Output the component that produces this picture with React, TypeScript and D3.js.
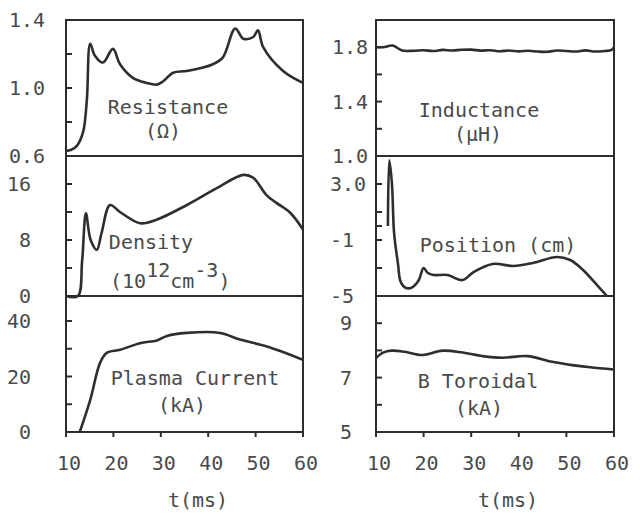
import React from "react";
import * as d3 from "d3";

// time axis (ms)
const timeTicks = [10, 20, 30, 40, 50, 60];

// readings, [t(ms), value]
const resistance = [
  [10, 0.63], [11, 0.635], [12.3, 0.66], [13.6, 0.74], [14.4, 0.93], [15.1, 1.26],
  [16.1, 1.19], [17.8, 1.15], [19.9, 1.23], [21.4, 1.14], [24.1, 1.06], [27, 1.03],
  [29.2, 1.02], [30.5, 1.04], [32.6, 1.09], [35.5, 1.1], [41, 1.14], [43.1, 1.18],
  [45.7, 1.35], [47.4, 1.29], [49.5, 1.3], [50.5, 1.34], [51.6, 1.24], [55.8, 1.1],
  [60, 1.03],
];
const density = [
  [10, 0], [12.5, 0], [13.4, 5], [14.2, 11.8], [15.2, 8], [16.5, 6.6], [17.5, 9],
  [19.3, 13], [21.4, 12], [25.6, 10.4], [29.1, 10.9], [35.5, 13], [41.8, 15.4],
  [47.4, 17.3], [49.5, 16.9], [52.3, 14.4], [54.4, 13.3], [57.3, 11.9], [60, 9.5],
];
const plasmaCurrent = [
  [12.9, 0], [15.1, 11.5], [17.2, 25], [18.6, 28.5], [21.4, 29.6], [25.6, 32],
  [29.2, 33], [31.3, 34.6], [35.5, 35.7], [42.5, 35.7], [46.7, 33.3], [52.4, 30.8],
  [60, 26],
];
const inductance = [
  [10, 1.8], [11.5, 1.8], [13.5, 1.812], [15.5, 1.775], [18, 1.774], [20, 1.778],
  [22, 1.772], [24, 1.78], [26, 1.776], [28, 1.781], [30, 1.782], [32, 1.775],
  [34, 1.778], [36, 1.77], [38, 1.776], [40, 1.769], [42, 1.774], [44, 1.768],
  [46, 1.766], [48, 1.776], [50, 1.772], [52, 1.768], [54, 1.777], [56, 1.768],
  [58, 1.772], [59.5, 1.78], [60, 1.8],
];
const position = [
  [12.5, 0], [12.8, 4.7], [13.35, 3.0], [13.8, -0.5], [14.6, -2.65], [15.2, -4.0],
  [16.3, -4.43], [17.7, -4.36], [19, -3.86], [20, -3.0], [20.9, -3.36], [22.1, -3.5],
  [25, -3.5], [28.2, -3.86], [30.5, -3.29], [34.5, -2.71], [38.9, -2.86], [43, -2.64],
  [48, -2.21], [50.8, -2.43], [53.5, -3.14], [56.4, -4.21], [58.5, -5],
];
const bToroidal = [
  [10, 7.72], [11.5, 7.92], [13.3, 7.99], [16, 7.95], [19.8, 7.83], [24, 7.99],
  [28.2, 7.92], [32.4, 7.79], [36.6, 7.73], [41.8, 7.79], [47, 7.58], [51.2, 7.46],
  [55, 7.38], [60, 7.3],
];

const resistanceTicks = [0.6, 0.8, 1.0, 1.2, 1.4];
const resistanceLabels = ["0.6", "1.0", "1.4"];
const densityTicks = [0, 4, 8, 12, 16];
const densityLabels = ["0", "8", "16"];
const currentTicks = [0, 10, 20, 30, 40];
const currentLabels = ["0", "20", "40"];
const inductanceTicks = [1.0, 1.2, 1.4, 1.6, 1.8];
const inductanceLabels = ["1.0", "1.4", "1.8"];
const positionTicks = [-5, -3, -1, 0, 1, 3];
const positionLabels = ["-5", "-1", "3.0"];
const toroidalTicks = [5, 6, 7, 8, 9];
const toroidalLabels = ["5", "7", "9"];

const INK = "#2e2e2e";
const TXT = "#4a4a4a";
const FONT = "'DejaVu Sans Mono', 'Liberation Mono', monospace";

const cols = [
  { x0: 66, x1: 303, title: 198 },
  { x0: 376, x1: 614, title: 508 },
];
const rows = [
  [20, 156],
  [156, 296],
  [296, 432],
];

const panels = [
  { col: 0, row: 0, data: resistance, domain: [0.6, 1.4], ticks: resistanceTicks, labels: resistanceLabels, labelX: 45, anchor: "end", name: ["Resistance", "(Ω)"], nameX: [168, 163], nameY: [107, 131] },
  { col: 0, row: 1, data: density, domain: [0, 20], ticks: densityTicks, labels: densityLabels, labelX: 31, anchor: "end", name: ["Density"], nameX: [151], nameY: [242] },
  { col: 0, row: 2, data: plasmaCurrent, domain: [0, 49], ticks: currentTicks, labels: currentLabels, labelX: 31, anchor: "end", name: ["Plasma Current", "(kA)"], nameX: [195, 182], nameY: [378, 405] },
  { col: 1, row: 0, data: inductance, domain: [1.0, 2.0], ticks: inductanceTicks, labels: inductanceLabels, labelX: 368, anchor: "end", name: ["Inductance", "(µH)"], nameX: [479, 478], nameY: [110, 134] },
  { col: 1, row: 1, data: position, domain: [-5, 5], ticks: positionTicks, labels: positionLabels, labelX: 330, anchor: "start", name: ["Position (cm)"], nameX: [498], nameY: [245] },
  { col: 1, row: 2, data: bToroidal, domain: [5, 10], ticks: toroidalTicks, labels: toroidalLabels, labelX: 352, anchor: "end", name: ["B Toroidal", "(kA)"], nameX: [478, 479], nameY: [381, 408] },
];

function Panel({ p }: { p: any }) {
  const c = cols[p.col];
  const [top, bottom] = rows[p.row];
  const x = d3.scaleLinear().domain([10, 60]).range([c.x0, c.x1]);
  const y = d3.scaleLinear().domain(p.domain).range([bottom, top]);
  const line = d3
    .line<number[]>()
    .x((d) => x(d[0]))
    .y((d) => y(d[1]))
    .curve(d3.curveCatmullRom.alpha(0.5));
  return (
    <g>
      <rect x={c.x0} y={top} width={c.x1 - c.x0} height={bottom - top} fill="none" stroke={INK} strokeWidth={2} />
      {p.ticks.map((t: number) => (
        <line key={t} x1={c.x0} x2={c.x0 + 6} y1={y(t)} y2={y(t)} stroke={INK} strokeWidth={2} />
      ))}
      {p.labels.map((l: string) => (
        <text key={l} x={p.labelX} y={y(+l)} dy="0.36em" textAnchor={p.anchor} fontSize={20} fill={TXT}>
          {l}
        </text>
      ))}
      <path d={line(p.data) || ""} fill="none" stroke={INK} strokeWidth={2.6} strokeLinejoin="round" />
      {p.name.map((s: string, i: number) => (
        <text key={s} x={p.nameX[i]} y={p.nameY[i]} dy="0.36em" textAnchor="middle" fontSize={20} fill={TXT}>
          {s}
        </text>
      ))}
      {p.row === 2 &&
        timeTicks.map((t) => (
          <g key={t}>
            <line x1={x(t)} x2={x(t)} y1={bottom} y2={bottom + 5} stroke={INK} strokeWidth={2} />
            <text x={x(t) + 3} y={463} dy="0.36em" textAnchor="middle" fontSize={20} fill={TXT}>
              {t}
            </text>
          </g>
        ))}
      {p.row === 2 && (
        <text x={c.title} y={500} dy="0.36em" textAnchor="middle" fontSize={20} fill={TXT}>
          t(ms)
        </text>
      )}
    </g>
  );
}

export default function App() {
  return (
    <svg
      width={640}
      height={519}
      viewBox="0 0 640 519"
      style={{ position: "absolute", left: 0, top: 0, background: "#fff" }}
      fontFamily={FONT}
    >
      <rect width={640} height={519} fill="#fff" />
      {panels.map((p, i) => (
        <Panel key={i} p={p} />
      ))}
      {/* density units with raised exponents */}
      <text x={110} y={288} fontSize={20} fill={TXT}>
        <tspan>(10</tspan>
        <tspan dy={-11}>12</tspan>
        <tspan dy={11}>cm</tspan>
        <tspan dy={-11}>-3</tspan>
        <tspan dy={11}>)</tspan>
      </text>
    </svg>
  );
}
